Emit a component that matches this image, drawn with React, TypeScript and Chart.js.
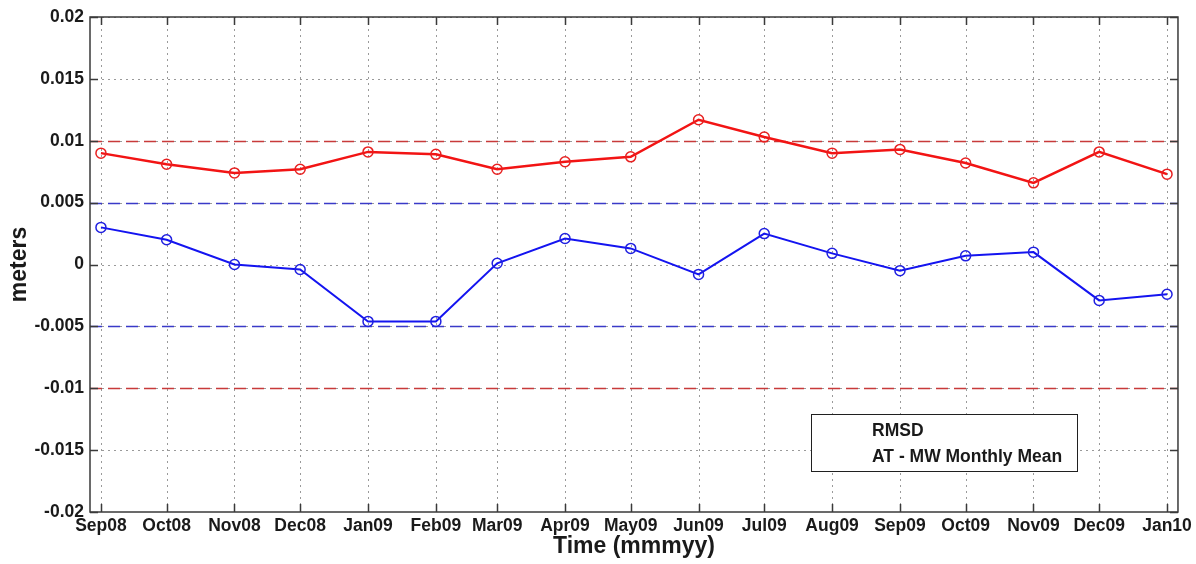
import React, { useEffect, useRef } from "react";
import { Chart, registerables } from "chart.js";

Chart.register(...registerables);

const monthLabels = ["Sep08", "Oct08", "Nov08", "Dec08", "Jan09", "Feb09", "Mar09", "Apr09", "May09", "Jun09", "Jul09", "Aug09", "Sep09", "Oct09", "Nov09", "Dec09", "Jan10"];
const monthStarts = ["2008-09-01", "2008-10-01", "2008-11-01", "2008-12-01", "2009-01-01", "2009-02-01", "2009-03-01", "2009-04-01", "2009-05-01", "2009-06-01", "2009-07-01", "2009-08-01", "2009-09-01", "2009-10-01", "2009-11-01", "2009-12-01", "2010-01-01"];
const rmsd = [0.0090, 0.0081, 0.0074, 0.0077, 0.0091, 0.0089, 0.0077, 0.0083, 0.0087, 0.0117, 0.0103, 0.0090, 0.0093, 0.0082, 0.0066, 0.0091, 0.0073];
const monthlyMean = [0.0030, 0.0020, 0.0000, -0.0004, -0.0046, -0.0046, 0.0001, 0.0021, 0.0013, -0.0008, 0.0025, 0.0009, -0.0005, 0.0007, 0.0010, -0.0029, -0.0024];
const yTicks = [0.02, 0.015, 0.01, 0.005, 0, -0.005, -0.01, -0.015, -0.02];
const redRefs = [0.01, -0.01];
const blueRefs = [0.005, -0.005];
const legendLabels = ["RMSD", "AT - MW Monthly Mean"];

const DAY = 86400000;
const t0 = Date.parse(monthStarts[0]);
const monthDays = monthStarts.map((s) => Math.round((Date.parse(s) - t0) / DAY));

const FONT = "'Liberation Sans', Arial, Helvetica, sans-serif";

const overlayPlugin = {
  id: "matlabOverlay",
  beforeDatasetsDraw(chart: any) {
    const { ctx, chartArea: a, scales } = chart;
    const xs = scales.x;
    const ys = scales.y;
    ctx.save();
    ctx.beginPath();
    ctx.rect(a.left, a.top, a.right - a.left, a.bottom - a.top);
    ctx.clip();
    ctx.strokeStyle = "#9a9a9a";
    ctx.lineWidth = 1;
    ctx.setLineDash([2, 4]);
    monthDays.forEach((d) => {
      const px = Math.round(xs.getPixelForValue(d)) + 0.5;
      ctx.beginPath();
      ctx.moveTo(px, a.top);
      ctx.lineTo(px, a.bottom);
      ctx.stroke();
    });
    yTicks.forEach((v) => {
      const py = Math.round(ys.getPixelForValue(v)) + 0.5;
      ctx.beginPath();
      ctx.moveTo(a.left, py);
      ctx.lineTo(a.right, py);
      ctx.stroke();
    });
    ctx.setLineDash([12, 6]);
    ctx.lineWidth = 1.5;
    ctx.strokeStyle = "#c83a3a";
    redRefs.forEach((v) => {
      const py = Math.round(ys.getPixelForValue(v)) + 0.5;
      ctx.beginPath();
      ctx.moveTo(a.left, py);
      ctx.lineTo(a.right, py);
      ctx.stroke();
    });
    ctx.strokeStyle = "#3a3ac8";
    blueRefs.forEach((v) => {
      const py = Math.round(ys.getPixelForValue(v)) + 0.5;
      ctx.beginPath();
      ctx.moveTo(a.left, py);
      ctx.lineTo(a.right, py);
      ctx.stroke();
    });
    ctx.restore();
  },
  afterDraw(chart: any) {
    const { ctx, chartArea: a, scales } = chart;
    const xs = scales.x;
    const ys = scales.y;
    ctx.save();
    ctx.setLineDash([]);
    ctx.strokeStyle = "#3a3a3a";
    ctx.lineWidth = 1.5;
    ctx.strokeRect(a.left, a.top, a.right - a.left, a.bottom - a.top);
    const tl = 8;
    ctx.beginPath();
    monthDays.forEach((d) => {
      const px = Math.round(xs.getPixelForValue(d)) + 0.5;
      ctx.moveTo(px, a.bottom);
      ctx.lineTo(px, a.bottom - tl);
      ctx.moveTo(px, a.top);
      ctx.lineTo(px, a.top + tl);
    });
    yTicks.forEach((v) => {
      const py = Math.round(ys.getPixelForValue(v)) + 0.5;
      ctx.moveTo(a.left, py);
      ctx.lineTo(a.left + tl, py);
      ctx.moveTo(a.right, py);
      ctx.lineTo(a.right - tl, py);
    });
    ctx.stroke();
    const bx = 811, by = 414, bw = 266, bh = 57;
    ctx.fillStyle = "#ffffff";
    ctx.fillRect(bx, by, bw, bh);
    ctx.strokeStyle = "#202020";
    ctx.lineWidth = 1;
    ctx.strokeRect(bx + 0.5, by + 0.5, bw, bh);
    ctx.fillStyle = "#1a1a1a";
    ctx.font = `bold 17.5px ${FONT}`;
    ctx.textBaseline = "middle";
    ctx.textAlign = "left";
    ctx.fillText(legendLabels[0], 872, 431);
    ctx.fillText(legendLabels[1], 872, 457);
    ctx.restore();
  },
};

export default function App() {
  const ref = useRef<HTMLCanvasElement | null>(null);
  useEffect(() => {
    document.body.style.margin = "0";
    const canvas = ref.current;
    if (!canvas) return;
    const chart = new Chart(canvas, {
      type: "line",
      data: {
        datasets: [
          {
            label: legendLabels[0],
            data: monthDays.map((d, i) => ({ x: d, y: rmsd[i] })),
            borderColor: "#f21414",
            backgroundColor: "rgba(0,0,0,0)",
            borderWidth: 2.5,
            pointRadius: 5,
            pointBorderWidth: 1.5,
            pointBorderColor: "#e82020",
            pointBackgroundColor: "rgba(0,0,0,0)",
            tension: 0,
          },
          {
            label: legendLabels[1],
            data: monthDays.map((d, i) => ({ x: d, y: monthlyMean[i] })),
            borderColor: "#1414f0",
            backgroundColor: "rgba(0,0,0,0)",
            borderWidth: 2,
            pointRadius: 5,
            pointBorderWidth: 1.5,
            pointBorderColor: "#2020e0",
            pointBackgroundColor: "rgba(0,0,0,0)",
            tension: 0,
          },
        ],
      },
      options: {
        animation: false,
        responsive: false,
        devicePixelRatio: 1,
        layout: { padding: { top: 17, right: 16, left: 0, bottom: 0 } },
        plugins: { legend: { display: false }, tooltip: { enabled: false } },
        scales: {
          x: {
            type: "linear",
            min: -5,
            max: 492,
            afterBuildTicks: (s: any) => {
              s.ticks = monthDays.map((d) => ({ value: d }));
            },
            afterFit: (s: any) => {
              s.height = 52;
            },
            grid: { display: false, drawTicks: false },
            border: { display: false },
            ticks: {
              autoSkip: false,
              maxRotation: 0,
              minRotation: 0,
              padding: 4,
              color: "#1a1a1a",
              font: { family: FONT, size: 17.5, weight: "bold" },
              callback: (_v: any, i: number) => monthLabels[i],
            },
            title: {
              display: true,
              text: "Time (mmmyy)",
              color: "#1a1a1a",
              font: { family: FONT, size: 23, weight: "bold" },
              padding: { top: 0, bottom: 4 },
            },
          },
          y: {
            min: -0.02,
            max: 0.02,
            afterBuildTicks: (s: any) => {
              s.ticks = yTicks.map((v) => ({ value: v }));
            },
            afterFit: (s: any) => {
              s.width = 90;
            },
            grid: { display: false, drawTicks: false },
            border: { display: false },
            ticks: {
              padding: 6,
              color: "#1a1a1a",
              font: { family: FONT, size: 17.5, weight: "bold" },
              callback: (v: any) => String(Number(Number(v).toFixed(3))),
            },
            title: {
              display: true,
              text: "meters",
              color: "#1a1a1a",
              font: { family: FONT, size: 23, weight: "bold" },
              padding: { top: 6, bottom: 0 },
            },
          },
        },
      },
      plugins: [overlayPlugin],
    } as any);
    return () => chart.destroy();
  }, []);
  return (
    <div style={{ width: 1196, height: 564, background: "#fff" }}>
      <canvas ref={ref} width={1196} height={564} style={{ display: "block" }} />
    </div>
  );
}
